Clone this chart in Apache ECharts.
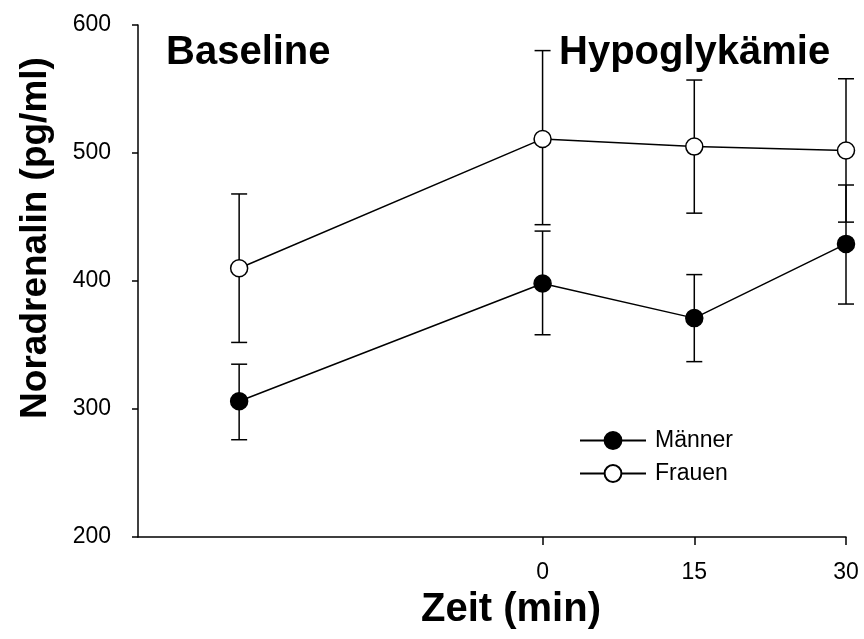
<!DOCTYPE html>
<html>
<head>
<meta charset="utf-8">
<script src="https://cdn.jsdelivr.net/npm/echarts@6/dist/echarts.min.js"></script>
<style>
html,body{margin:0;padding:0;background:#fff;}
#c{width:864px;height:639px;}
</style>
</head>
<body>
<div id="c"></div>
<script>
// Data
const timeValues = [-30, 0, 15, 30];          // -30 = Baseline position
const xTickValues = [0, 15, 30];
const maenner = [306, 398, 371, 429];
const maennerLow = [276, 358, 337, 382];
const maennerHigh = [335, 439, 405, 475];
const frauen = [410, 511, 505, 502];
const frauenLow = [352, 444, 453, 446];
const frauenHigh = [468, 580, 557, 558];
const yTicks = [200, 300, 400, 500, 600];

const FONT = '"Liberation Sans", Arial, sans-serif';

function pts(vals){ return timeValues.map((t,i)=>[t, vals[i]]); }
function errData(lo, hi){ return timeValues.map((t,i)=>[t, lo[i], hi[i]]); }

function errRender(params, api){
  const x = api.value(0);
  const lo = api.coord([x, api.value(1)]);
  const hi = api.coord([x, api.value(2)]);
  const hw = 8;
  const st = {stroke:'#000', lineWidth:1.5};
  return {type:'group', children:[
    {type:'line', shape:{x1:lo[0],y1:lo[1],x2:hi[0],y2:hi[1]}, style:st},
    {type:'line', shape:{x1:lo[0]-hw,y1:lo[1],x2:lo[0]+hw,y2:lo[1]}, style:st},
    {type:'line', shape:{x1:hi[0]-hw,y1:hi[1],x2:hi[0]+hw,y2:hi[1]}, style:st}
  ]};
}

const chart = echarts.init(document.getElementById('c'), null, {renderer:'canvas'});
chart.setOption({
  animation:false,
  backgroundColor:'#fff',
  grid:{left:138, right:18, top:25, bottom:102, containLabel:false},
  xAxis:{
    type:'value', min:-40, max:30,
    axisLine:{onZero:false, lineStyle:{color:'#000', width:1.5}},
    axisTick:{show:true, inside:false, length:8, lineStyle:{color:'#000', width:1.5}, customValues:xTickValues},
    axisLabel:{color:'#000', fontSize:23, fontFamily:FONT, margin:24, customValues:xTickValues},
    splitLine:{show:false}
  },
  yAxis:{
    type:'value', min:200, max:600, interval:100,
    axisLine:{show:true, onZero:false, lineStyle:{color:'#000', width:1.5}},
    axisTick:{show:true, inside:false, length:6, lineStyle:{color:'#000', width:1.5}},
    axisLabel:{color:'#000', fontSize:23, fontFamily:FONT, margin:27},
    splitLine:{show:false}
  },
  legend:{
    orient:'vertical', left:574, top:424, itemWidth:66, itemHeight:21, itemGap:10,
    textStyle:{color:'#000', fontSize:23, fontFamily:FONT, padding:[0,0,0,4]},
    data:['Männer','Frauen']
  },
  series:[
    {type:'custom', name:'errM', renderItem:errRender, data:errData(maennerLow, maennerHigh), z:1, silent:true},
    {type:'custom', name:'errF', renderItem:errRender, data:errData(frauenLow, frauenHigh), z:1, silent:true},
    {type:'line', name:'Männer', data:pts(maenner), symbol:'circle', symbolSize:17,
      lineStyle:{color:'#000', width:1.5}, itemStyle:{color:'#000', borderColor:'#000', borderWidth:1.5}, z:3},
    {type:'line', name:'Frauen', data:pts(frauen), symbol:'circle', symbolSize:17,
      lineStyle:{color:'#000', width:1.5}, itemStyle:{color:'#fff', borderColor:'#000', borderWidth:1.5}, z:3}
  ],
  graphic:[
    {type:'text', left:166, top:33, style:{text:'Baseline', fill:'#000', font:'bold 40px '+FONT}},
    {type:'text', left:559, top:33, style:{text:'Hypoglykämie', fill:'#000', font:'bold 40px '+FONT}},
    {type:'text', x:36, y:238, rotation:Math.PI/2, style:{text:'Noradrenalin (pg/ml)', fill:'#000', font:'bold 37px '+FONT, align:'center', verticalAlign:'middle'}},
    {type:'text', x:511, y:610, style:{text:'Zeit (min)', fill:'#000', font:'bold 40px '+FONT, align:'center', verticalAlign:'middle'}}
  ]
});
</script>
</body>
</html>
